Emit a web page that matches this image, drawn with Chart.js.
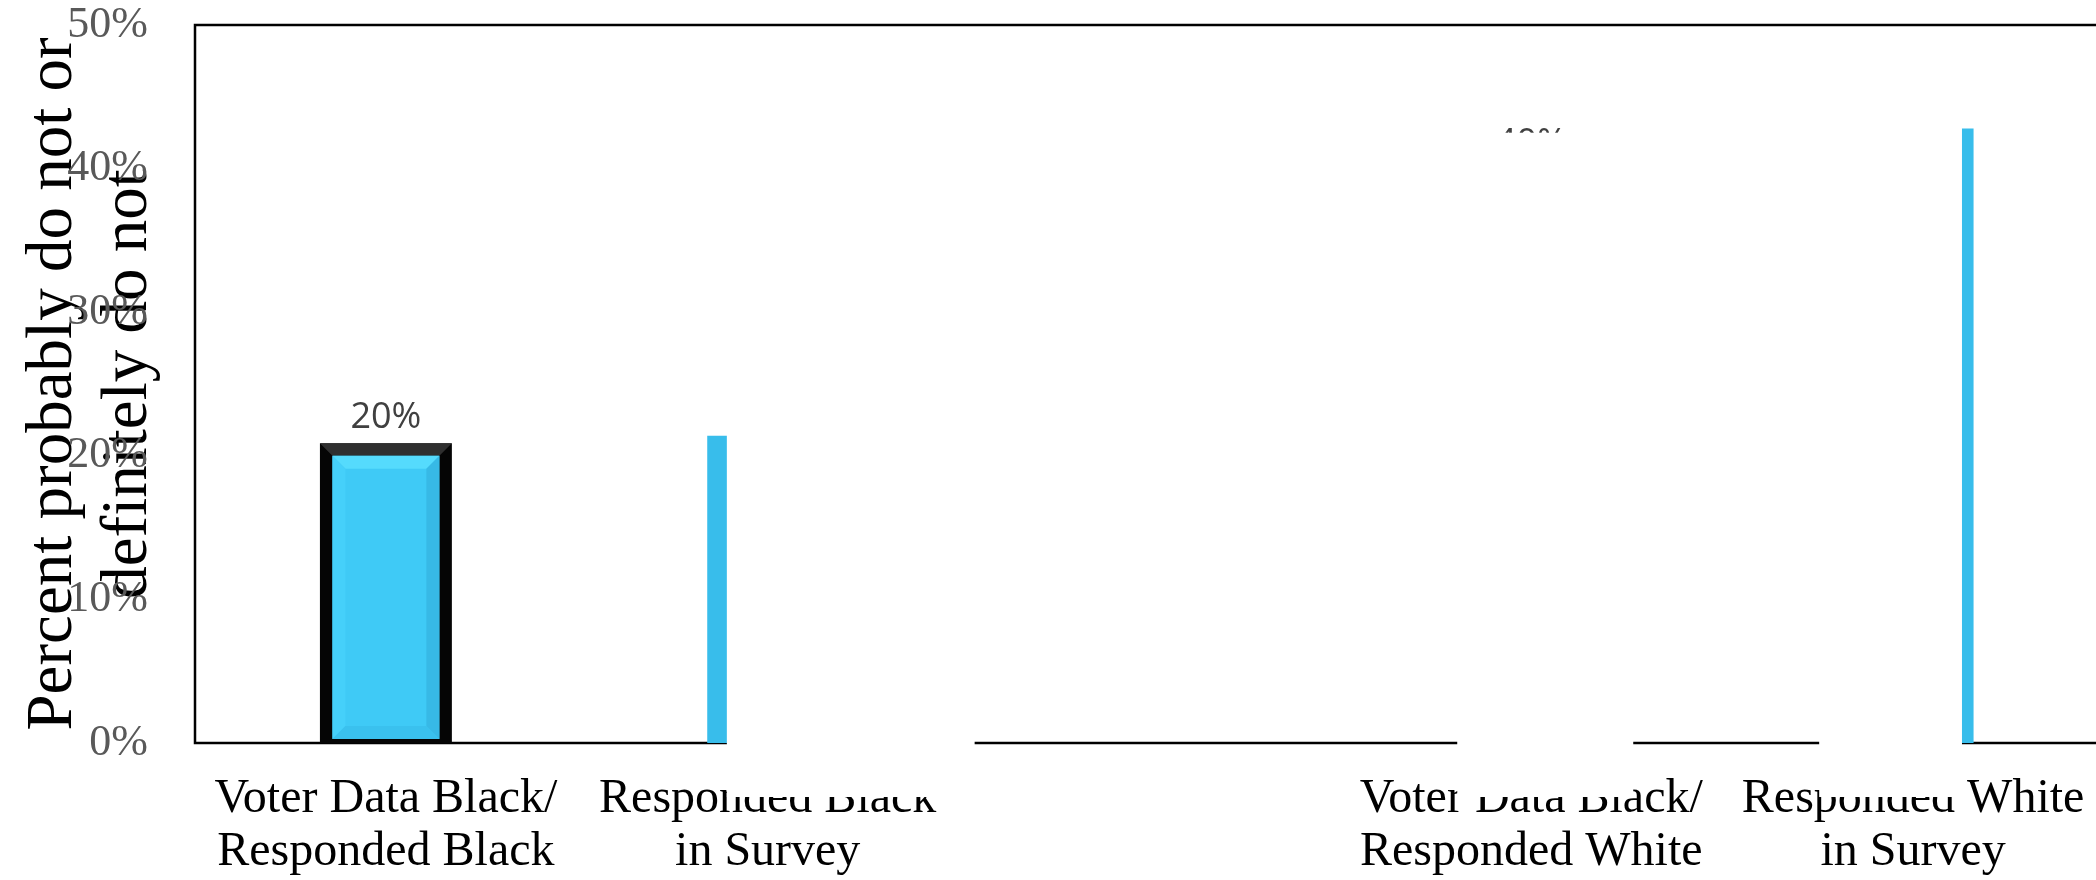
<!DOCTYPE html>
<html>
<head>
<meta charset="utf-8">
<script src="https://cdn.jsdelivr.net/npm/chart.js@4/dist/chart.umd.min.js"></script>
<style>
  html, body { margin: 0; padding: 0; background: #fff; overflow: hidden; }
  #wrap { position: relative; width: 2115px; height: 880px; }
</style>
</head>
<body>
<div id="wrap"><canvas id="chart"></canvas></div>
<script>
// Categories (the middle slot is an empty spacer between the two groups)
const categories = [
  ["Voter Data Black/", "Responded Black"],
  ["Responded Black", "in Survey"],
  "",
  ["Voter Data Black/", "Responded White"],
  ["Responded White", "in Survey"]
];
// Percent who probably do not or definitely do not
const values = [20, 21.4, null, 40, 42.8];
// Bars drawn with the raised, framed style
const highlighted = [true, false, false, false, false];
// Value axis
const yMin = 0;
const yMax = 50;
const yStep = 10;
const yTitle = ["Percent probably do not or", "definitely do not"];
// White panels laid over parts of the plot and the axis (axis units: category index, percent)
const coverPanels = [
  { from: 0.893, to: 1.542, low: -3.76, high: 25.3 },
  { from: 2.806, to: 3.267, low: -3.76, high: 42.5 },
  { from: 3.754, to: 4.128, low: -3.76, high: 47.6 }
];

const FRAME = 12.5;

// Box around the plot area
const plotFrame = {
  id: 'plotFrame',
  beforeDatasetsDraw(chart) {
    const { ctx, chartArea: a } = chart;
    ctx.save();
    ctx.strokeStyle = '#000';
    ctx.lineWidth = 2.5;
    ctx.strokeRect(a.left, a.top, a.right - a.left, a.bottom - a.top);
    ctx.restore();
  }
};

function poly(ctx, pts, color) {
  ctx.beginPath();
  ctx.moveTo(pts[0][0], pts[0][1]);
  for (let i = 1; i < pts.length; i++) ctx.lineTo(pts[i][0], pts[i][1]);
  ctx.closePath();
  ctx.fillStyle = color;
  ctx.fill();
}

// Raised bevel and black frame for highlighted bars
const bevelBars = {
  id: 'bevelBars',
  afterDatasetsDraw(chart) {
    const ctx = chart.ctx;
    const meta = chart.getDatasetMeta(0);
    ctx.save();
    meta.data.forEach((bar, i) => {
      if (values[i] == null || !highlighted[i]) return;
      const p = bar.getProps(['x', 'y', 'base', 'width'], true);
      const L = p.x - p.width / 2, R = p.x + p.width / 2, T = p.y, B = p.base - 4;
      const oL = L - FRAME, oR = R + FRAME, oT = T - FRAME, oB = p.base;
      ctx.fillStyle = '#050505';
      ctx.fillRect(oL, oT, oR - oL, oB - oT);
      poly(ctx, [[oL, oT], [oR, oT], [R, T], [L, T]], '#2f2f2f');
      ctx.fillStyle = '#3fcaf6';
      ctx.fillRect(L, T, R - L, B - T);
      const b = 13;
      poly(ctx, [[L, T], [R, T], [R - b, T + b], [L + b, T + b]], '#55dbfd');
      poly(ctx, [[L, T], [L + b, T + b], [L + b, B - b], [L, B]], '#45d0fa');
      poly(ctx, [[R, T], [R, B], [R - b, B - b], [R - b, T + b]], '#37b9e6');
      poly(ctx, [[L, B], [R, B], [R - b, B - b], [L + b, B - b]], '#3ac1ee');
    });
    ctx.restore();
  }
};

// Value labels above the bars
const valueLabels = {
  id: 'valueLabels',
  afterDatasetsDraw(chart) {
    const ctx = chart.ctx;
    ctx.save();
    ctx.font = '36px "Open Sans"';
    ctx.fillStyle = '#404040';
    ctx.textAlign = 'center';
    ctx.textBaseline = 'alphabetic';
    values.forEach((v, i) => {
      if (v == null) return;
      const ds = highlighted[i] ? 0 : 1;
      const bar = chart.getDatasetMeta(ds).data[i];
      const p = bar.getProps(['x', 'y'], true);
      const top = p.y - (highlighted[i] ? FRAME : 0) - 15;
      ctx.fillText(Math.round(v) + '%', p.x, top);
    });
    ctx.restore();
  }
};

// White panels over the chart, placed through the scales
const panels = {
  id: 'panels',
  afterDraw(chart) {
    const { ctx, scales: { x, y } } = chart;
    ctx.save();
    ctx.fillStyle = '#fff';
    coverPanels.forEach(pn => {
      const x1 = x.getPixelForValue(pn.from), x2 = x.getPixelForValue(pn.to);
      const y1 = y.getPixelForValue(pn.high), y2 = y.getPixelForValue(pn.low);
      ctx.fillRect(x1, y1, x2 - x1, y2 - y1);
    });
    ctx.restore();
  }
};

new Chart(document.getElementById('chart'), {
  type: 'bar',
  data: {
    labels: categories,
    datasets: [
      {
        data: values.map((v, i) => highlighted[i] ? v : null),
        backgroundColor: '#3fcaf6',
        barPercentage: 107 / 382,
        categoryPercentage: 1,
        grouped: false
      },
      {
        data: values.map((v, i) => highlighted[i] ? null : v),
        backgroundColor: '#38bdeb',
        barPercentage: 121 / 382,
        categoryPercentage: 1,
        grouped: false
      }
    ]
  },
  options: {
    responsive: true,
    maintainAspectRatio: false,
    animation: false,
    devicePixelRatio: 1,
    layout: { padding: { left: 0, top: 25, right: 11, bottom: 0 } },
    plugins: { legend: { display: false }, tooltip: { enabled: false } },
    scales: {
      x: {
        offset: true,
        grid: { display: false, drawTicks: false },
        border: { display: false },
        ticks: {
          color: '#000',
          font: { family: '"Liberation Serif", "Times New Roman", serif', size: 48, lineHeight: 1.1 },
          padding: 30,
          maxRotation: 0,
          autoSkip: false
        },
        afterFit(s) { s.height = 137; s.paddingLeft = 0; s.paddingRight = 0; }
      },
      y: {
        min: yMin,
        max: yMax,
        grid: { display: false, drawTicks: false },
        border: { display: false },
        ticks: {
          stepSize: yStep,
          color: '#595959',
          font: { family: '"Liberation Serif", "Times New Roman", serif', size: 44 },
          padding: 47,
          callback: v => v + '%'
        },
        title: {
          display: true,
          text: yTitle,
          color: '#000',
          font: { family: '"Liberation Serif", "Times New Roman", serif', size: 65, lineHeight: 1.15 },
          padding: { top: 17, bottom: 0 }
        },
        afterFit(s) { s.width = 195; s.paddingTop = 0; s.paddingBottom = 0; }
      }
    }
  },
  plugins: [plotFrame, bevelBars, valueLabels, panels]
});
</script>
</body>
</html>
